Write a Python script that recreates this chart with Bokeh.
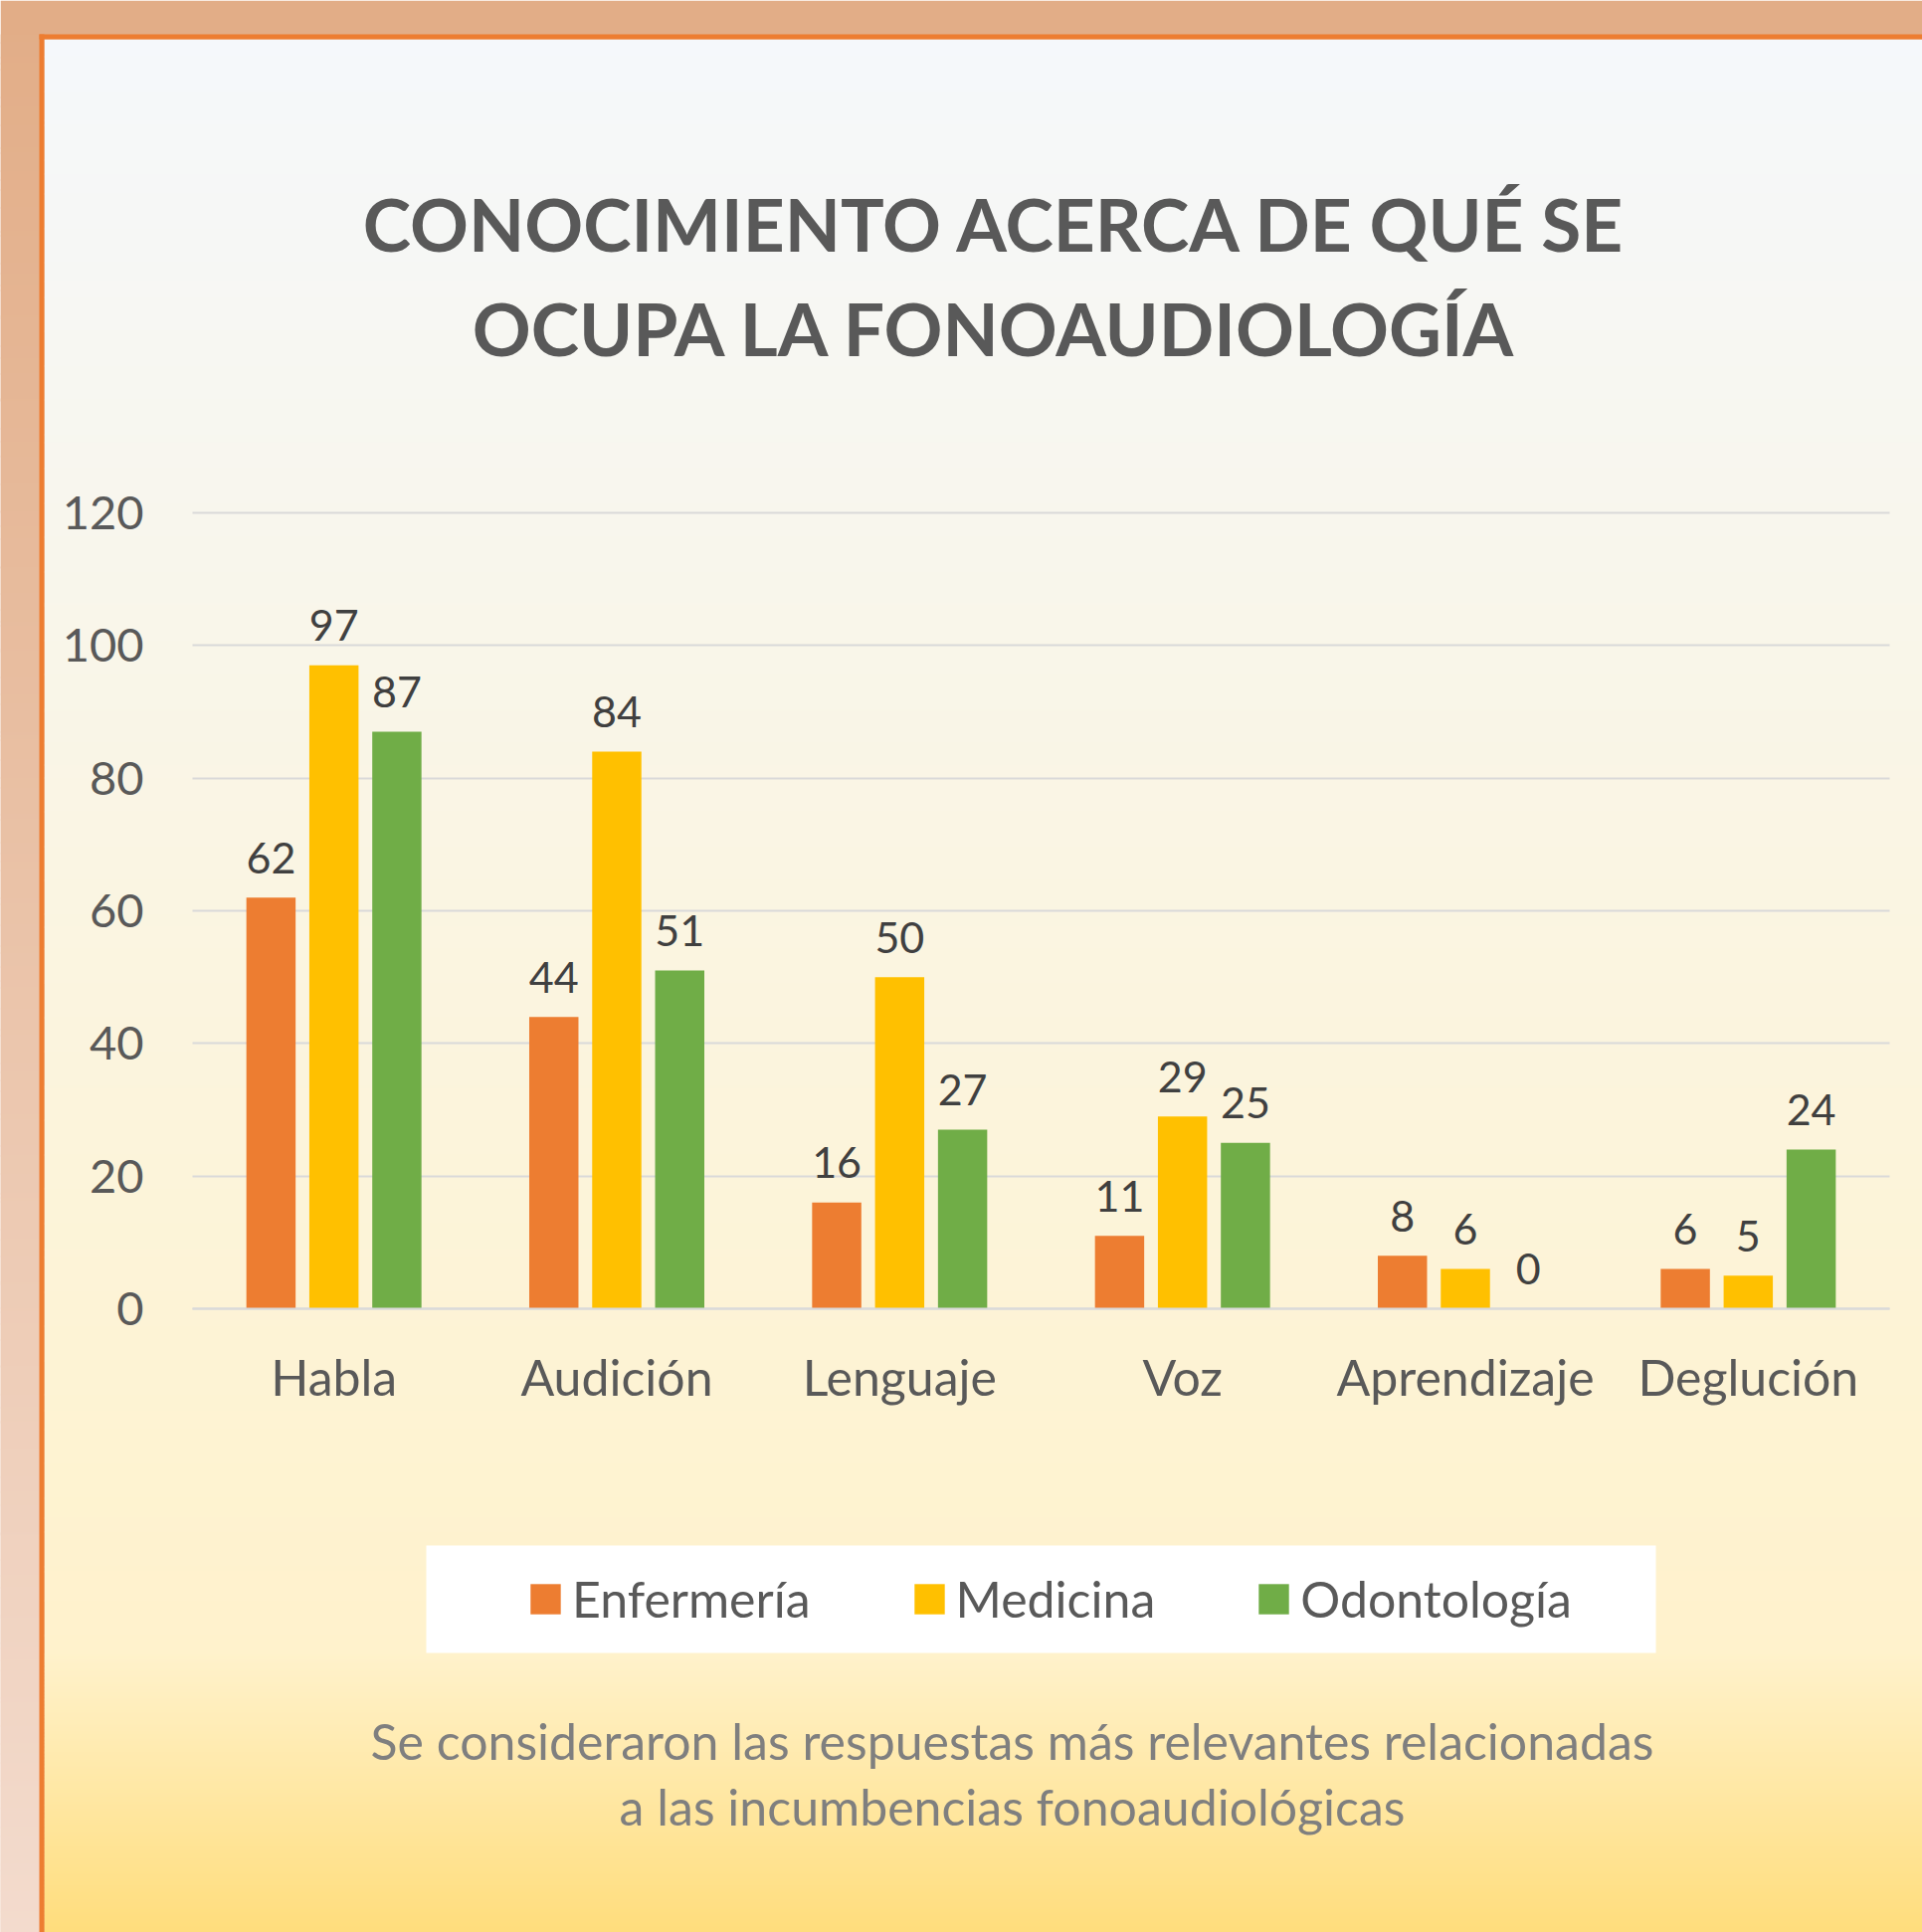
from bokeh.plotting import figure
from bokeh.models import (ColumnDataSource, Range1d, FixedTicker, Label, Legend, LegendItem)
from bokeh.transform import dodge
from bokeh.core.properties import value
from bokeh.embed import file_html
from bokeh.resources import INLINE

# ---------------- data ----------------
CATEGORIES = ["Habla", "Audición", "Lenguaje", "Voz", "Aprendizaje", "Deglución"]
ENFERMERIA = [62, 44, 16, 11, 8, 6]
MEDICINA = [97, 84, 50, 29, 6, 5]
ODONTOLOGIA = [87, 51, 27, 25, 0, 24]
SERIES_NAMES = ["Enfermería", "Medicina", "Odontología"]
Y_TICKS = [0, 20, 40, 60, 80, 100, 120]
TITLE_LINES = ["CONOCIMIENTO ACERCA DE QUÉ SE", "OCUPA LA FONOAUDIOLOGÍA"]
NOTE_LINES = ["Se consideraron las respuestas más relevantes relacionadas",
              "a las incumbencias fonoaudiológicas"]

# ---------------- layout (pixels) ----------------
W, H = 1932, 1942
CL, CR, CT, CB = 193, 1899, 515, 1315          # chart area edges
Y_MAX = 120
N = len(CATEGORIES)
UX = (CR - CL) / N
FONT = "Lato"
SERIES_COLORS = ["#ED7D31", "#FFC000", "#70AD47"]
OFFSETS = [-0.2225, 0.0, 0.2225]
BAR_W = 0.174


def xd(px):
    return (px - CL) / UX - 0.5


def yd(py):
    return (CB - py) / (CB - CT) * Y_MAX


X0, X1 = xd(CL), xd(CR)

p = figure(width=W, height=H,
           x_range=Range1d(xd(0), xd(W)), y_range=Range1d(yd(H), yd(0)),
           output_backend="svg", toolbar_location=None, min_border=0, title=None)
p.min_border_left = p.min_border_right = p.min_border_top = p.min_border_bottom = 0
p.background_fill_alpha = 0
p.border_fill_alpha = 0
p.outline_line_color = None


# ---------------- background ----------------
bg = dict(left=[], right=[], top=[], bottom=[], color=[])


def add_box(x0, y0, x1, y1, color):
    bg["left"].append(xd(x0))
    bg["right"].append(xd(x1))
    bg["top"].append(yd(y0))
    bg["bottom"].append(yd(y1))
    bg["color"].append(color)


def color_at(y, stops):
    for (ya, ca), (yb, cb) in zip(stops[:-1], stops[1:]):
        if y <= yb:
            t = max(0.0, min(1.0, (y - ya) / (yb - ya)))
            return tuple(int(round(a + (b - a) * t)) for a, b in zip(ca, cb))
    return stops[-1][1]


def gradient(x0, x1, y0, y1, stops):
    cur, start = None, y0
    runs = []
    for y in range(y0, y1):
        c = color_at(y + 0.5, stops)
        if c != cur:
            if cur is not None:
                runs.append((start, y, cur))
            cur, start = c, y
    runs.append((start, y1, cur))
    for s, e, c in runs:
        add_box(x0, s, x1, min(e + 1, y1), "#%02x%02x%02x" % c)


add_box(0, 0, W, H, "#E2AD87")
gradient(0, 40, 34, H, [(0, (226, 173, 135)), (H, (243, 219, 205))])
gradient(44, W, 39, H, [(39, (245, 248, 251)), (1660, (255, 242, 204)), (H, (255, 221, 124))])
add_box(39, 34, 44, H, "#ED7D31")
add_box(39, 34, W, 39, "#ED7D31")
add_box(428, 1553, 1664, 1661, "#FFFFFF")
p.quad(left="left", right="right", top="top", bottom="bottom", fill_color="color",
       line_color=None, source=ColumnDataSource(bg), level="image")

# ---------------- axes & grid ----------------
p.yaxis.fixed_location = X0
p.yaxis.ticker = FixedTicker(ticks=Y_TICKS)
p.yaxis.axis_line_color = None
p.yaxis.major_tick_line_color = None
p.yaxis.minor_tick_line_color = None
p.yaxis.major_label_standoff = 43
p.yaxis.major_label_text_font = FONT
p.yaxis.major_label_text_font_size = "47px"
p.yaxis.major_label_text_color = "#595959"

p.xaxis.fixed_location = 0
p.xaxis.bounds = (X0, X1)
p.xaxis.ticker = FixedTicker(ticks=list(range(N)))
p.xaxis.major_label_overrides = {i: c for i, c in enumerate(CATEGORIES)}
p.xaxis.axis_line_color = "#D9D9D9"
p.xaxis.axis_line_width = 2
p.xaxis.major_tick_line_color = None
p.xaxis.minor_tick_line_color = None
p.xaxis.major_label_standoff = 32
p.xaxis.major_label_text_font = FONT
p.xaxis.major_label_text_font_size = "50px"
p.xaxis.major_label_text_color = "#595959"

p.xgrid.visible = False
yg = p.ygrid[0]
yg.ticker = p.yaxis[0].ticker
yg.grid_line_color = "#D9D9D9"
yg.grid_line_width = 2
try:
    yg.cross_bounds = (X0, X1)
except Exception:
    yg.visible = False
    p.yaxis.level = "underlay"
    p.yaxis.major_tick_in = CR - CL
    p.yaxis.major_tick_out = 0
    p.yaxis.major_tick_line_color = "#D9D9D9"
    p.yaxis.major_tick_line_width = 2

# ---------------- bars & labels ----------------
src = ColumnDataSource(dict(
    pos=list(range(N)),
    enf=ENFERMERIA, med=MEDICINA, odo=ODONTOLOGIA,
    enf_t=[str(v) for v in ENFERMERIA],
    med_t=[str(v) for v in MEDICINA],
    odo_t=[str(v) for v in ODONTOLOGIA],
))

items = []
for key, off, color, name in zip(["enf", "med", "odo"], OFFSETS, SERIES_COLORS, SERIES_NAMES):
    r = p.vbar(x=dodge("pos", off), top=key, width=BAR_W, source=src,
               fill_color=color, line_color=None)
    p.text(x=dodge("pos", off), y=key, text=key + "_t", source=src,
           text_align="center", text_baseline="alphabetic", y_offset=-40,
           text_font=value(FONT), text_font_size="43px", text_color="#404040")
    items.append(LegendItem(label=name, renderers=[r]))

legend = Legend(items=items, orientation="horizontal", location=(529, H - 1637),
                padding=0, margin=0, spacing=100, glyph_width=38, glyph_height=38,
                label_standoff=8, label_text_font=FONT, label_text_font_size="50px",
                label_text_color="#595959", background_fill_alpha=0, border_line_color=None)
p.add_layout(legend)

# ---------------- title & note ----------------
for line, base in zip(TITLE_LINES, [224, 329]):
    p.add_layout(Label(x=xd(1000), y=yd(base), text=line, text_align="center",
                       text_baseline="alphabetic", text_font=FONT, text_font_style="bold",
                       text_font_size="73px", text_color="#595959"))
for line, base in zip(NOTE_LINES, [1749, 1815]):
    p.add_layout(Label(x=xd(1017), y=yd(base), text=line, text_align="center",
                       text_baseline="alphabetic", text_font=FONT,
                       text_font_size="50px", text_color="#7F7F7F"))

with open("out.html", "w", encoding="utf-8") as f:
    f.write(file_html(p, INLINE))
